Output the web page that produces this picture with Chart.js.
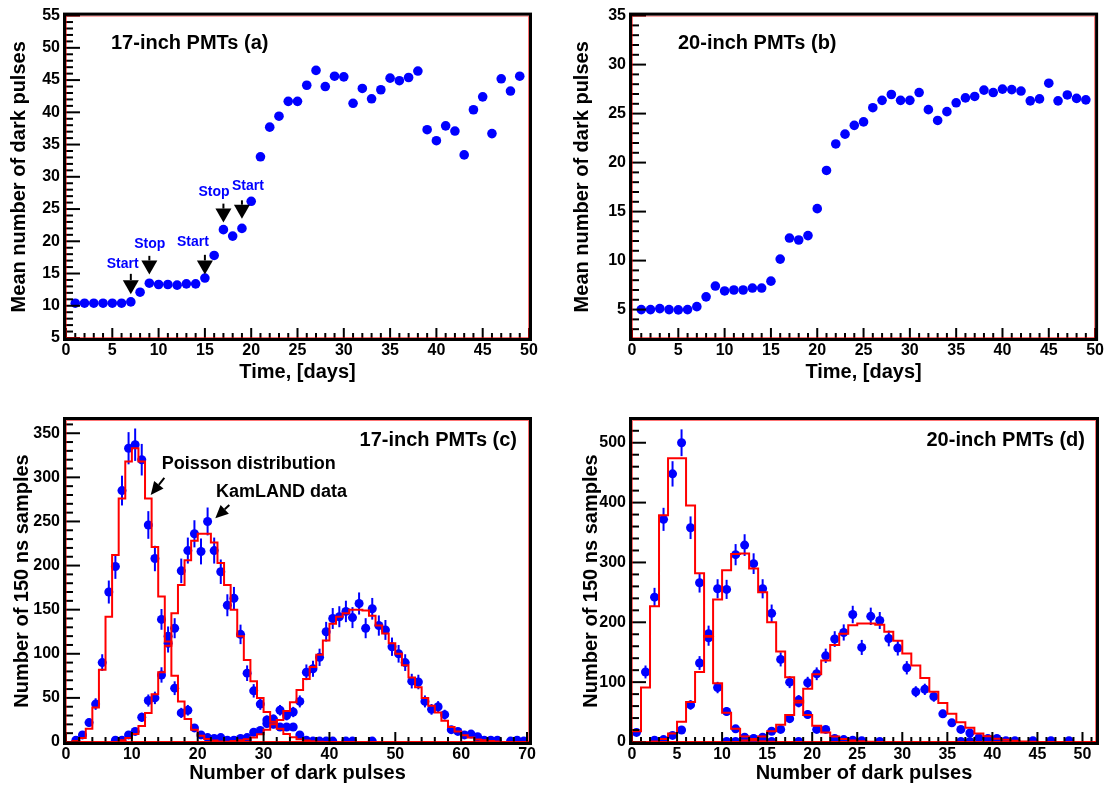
<!DOCTYPE html>
<html>
<head>
<meta charset="utf-8">
<script src="https://cdn.jsdelivr.net/npm/chart.js@4.4.1/dist/chart.umd.min.js"></script>
<style>
    html, body { margin: 0; padding: 0; background: #fff; }
    #page { position: relative; width: 1107px; height: 787px; overflow: hidden; }
    #page canvas { position: absolute; }
</style>
</head>
<body>
<div id="page">
    <canvas id="chart-a" width="553" height="393" style="left:0px;top:0px"></canvas>
    <canvas id="chart-b" width="547" height="393" style="left:560px;top:0px"></canvas>
    <canvas id="chart-c" width="553" height="387" style="left:0px;top:400px"></canvas>
    <canvas id="chart-d" width="547" height="387" style="left:560px;top:400px"></canvas>
</div>
<script>
// (a), (b): mean number of dark pulses per day
const days = [1, 2, 3, 4, 5, 6, 7, 8, 9, 10, 11, 12, 13, 14, 15, 16, 17, 18, 19, 20, 21, 22, 23, 24, 25,
    26, 27, 28, 29, 30, 31, 32, 33, 34, 35, 36, 37, 38, 39, 40, 41, 42, 43, 44, 45, 46, 47, 48, 49];
const mean17 = [10.4, 10.4, 10.4, 10.4, 10.4, 10.4, 10.6, 12.1, 13.5, 13.3, 13.3, 13.2, 13.4, 13.4, 14.3,
    17.8, 21.8, 20.8, 22.0, 26.2, 33.1, 37.7, 39.4, 41.7, 41.7, 44.2, 46.5, 44.0, 45.6, 45.5, 41.4, 43.7,
    42.1, 43.5, 45.3, 44.9, 45.4, 46.4, 37.3, 35.6, 37.9, 37.1, 33.4, 40.4, 42.4, 36.7, 45.2, 43.3, 45.6];
const mean20 = [5.0, 5.0, 5.1, 5.0, 4.97, 5.0, 5.3, 6.3, 7.4, 6.9, 7.0, 7.0, 7.2, 7.2, 7.9,
    10.15, 12.3, 12.1, 12.55, 15.3, 19.2, 21.9, 22.9, 23.8, 24.15, 25.6, 26.35, 26.95, 26.35, 26.35, 27.15, 25.4,
    24.3, 25.2, 26.1, 26.6, 26.75, 27.4, 27.15, 27.5, 27.45, 27.3, 26.3, 26.5, 28.1, 26.3, 26.9, 26.55, 26.4];

// (c) 17-inch: KamLAND data, counts per bin [k, k+1), first bin index given
const c1Start = 1;
const c1Data = [2, 8, 22, 43, 90, 170, 199, 285, 333, 337, 320, 246, 208, 139, 112, 61, 33, 36, 16, 8,
    5, 4, 5, 2, 2, 4, 2];
const c2Start = 7;
const c2Data = [2, 2, 8, 12, 28, 47, 50, 76, 120, 129, 194, 217, 236, 216, 250, 217, 193, 155, 163, 122,
    78, 58, 43, 25, 20, 17, 17, 17, 8, 2, 1, 1, 1, 1, null, 1, 1, null, null, 1];
const c3Start = 25;
const c3Data = [1, 3, 5, 11, 13, 21, 26, 36, 30, 34, 46, 79, 83, 96, 125, 140, 142, 148, 141, 157,
    129, 151, 132, 127, 108, 100, 90, 69, 68, 46, 37, 40, 31, 14, 12, 8, 9, 6, 2, 2, 2, null, 1, 2, 1];
// (c) Poisson distributions
const p1Start = 1;
const p1Data = [1, 4.5, 15, 39, 82, 142, 212, 276, 318, 333, 318, 276, 221, 165, 114, 75, 46, 26, 14, 7,
    3.5, 1.7, 0.7, 0.3];
const p2Start = 8;
const p2Data = [2, 4.5, 9, 18, 33, 54, 79, 109, 146, 178, 206, 228, 236, 236, 226, 203, 178, 150, 120, 93,
    69, 50, 34, 23, 15, 9, 5.5, 3, 1.6, 0.8, 0.4];
const p3Start = 25;
const p3Data = [1, 2, 3, 5, 8.7, 14, 20, 25, 35, 45, 59, 71.5, 85, 99, 115, 134, 142, 146, 150, 150,
    149, 143, 132, 123, 112, 100, 87, 73, 62, 50, 41, 33.5, 24, 17, 12, 7.6, 5, 2.7, 2, 1, 0.5];

// (d) 20-inch: KamLAND data
const d1Start = 0;
const d1Data = [16, 117, 242, 372, 448, 500, 358, 266, 181, 91, 51, 22, 8, 5, 2, 1, null, null, 1];
const d2Start = 2;
const d2Data = [3, 4, 11, 20, 62, 132, 174, 256, 255, 313, 329, 298, 256, 215, 138, 100, 66, 46, 21, 21,
    6, 4, 3, 2, null, 1, null, null, null, null, null, null, null, null, 1, 1];
const d3Start = 10;
const d3Data = [1, 1, 2, 6, 8, 18, 21, 39, 70, 99, 114, 144, 172, 183, 213, 158, 210, 203, 173, 157,
    124, 84, 88, 76, 47, 32, 21, 15, 7, 6, 6, 2, 2, null, 2, null, 2, null, 2];
// (d) Poisson distributions
const q1Start = 0;
const q1Data = [18, 91, 227, 379, 474, 474, 395, 282, 176, 98, 49, 22, 9, 3.5, 1.3, 0.4];
const q2Start = 2;
const q2Data = [1, 5, 14, 34, 67, 117, 177, 238, 287, 314, 315, 290, 250, 200, 151, 108, 69, 45, 27, 16,
    9, 5, 2.5, 1.2, 0.5];
const q3Start = 12;
const q3Data = [2.5, 5, 9, 18, 29, 45, 66, 89, 113, 136, 162, 181, 195, 198, 198, 196, 184, 169, 148, 128,
    107, 84, 65, 47, 33, 24, 14, 9.5, 5.6, 3.9, 2, 1, 0.5];

const FONT = "'Liberation Sans', Arial, Helvetica, sans-serif";
const BLUE = '#0000ff';
const RED = '#ff0000';
Chart.defaults.font.family = FONT;
Chart.defaults.color = '#000';

function binPoints(start, counts) {
    return counts
        .map((c, i) => (c === null ? null : { x: start + i + 0.5, y: c }))
        .filter(p => p !== null);
}

function stepPoints(start, counts, lastBin) {
    const pts = [];
    for (let k = 0; k <= lastBin; k++) {
        const v = counts[k - start];
        pts.push({ x: k, y: v === undefined ? 0 : v });
    }
    pts.push({ x: lastBin + 1, y: 0 });
    return pts;
}

// ROOT-like frame with inward major/minor ticks
const rootFrame = {
    id: 'rootFrame',
    afterDatasetsDraw(chart, args, opts) {
        const { ctx, chartArea: a, scales } = chart;
        ctx.save();
        ctx.strokeStyle = '#000';
        ctx.lineWidth = 2;
        drawTicks(ctx, scales.x, a, opts.xMinor, 10, 5, true);
        drawTicks(ctx, scales.y, a, opts.yMinor, 14, 7, false);
        ctx.strokeStyle = 'rgba(255,0,0,0.55)';
        ctx.lineWidth = 1;
        ctx.strokeRect(a.left + 0.5, a.top + 0.5, a.width - 1, a.height - 1);
        ctx.strokeStyle = '#000';
        ctx.lineWidth = 3;
        ctx.strokeRect(a.left - 1.5, a.top - 1.5, a.width + 3, a.height + 3);
        ctx.restore();
    }
};

function drawTicks(ctx, scale, a, minor, majorLen, minorLen, horizontal) {
    const major = scale.options.ticks.stepSize;
    const first = Math.ceil(scale.min / minor - 1e-9);
    for (let i = first; i * minor <= scale.max + 1e-9; i++) {
        const v = i * minor;
        const isMajor = Math.abs(v / major - Math.round(v / major)) < 1e-6;
        const len = isMajor ? majorLen : minorLen;
        const p = scale.getPixelForValue(v);
        ctx.beginPath();
        if (horizontal) {
            ctx.moveTo(p, a.bottom);
            ctx.lineTo(p, a.bottom - len);
        } else {
            ctx.moveTo(a.left, p);
            ctx.lineTo(a.left + len, p);
        }
        ctx.stroke();
    }
}

// statistical error bars (sqrt N) under the data points
const errorBars = {
    id: 'errorBars',
    beforeDatasetsDraw(chart) {
        const { ctx, scales: { y } } = chart;
        ctx.save();
        ctx.strokeStyle = BLUE;
        ctx.lineWidth = 2;
        chart.data.datasets.forEach((ds, i) => {
            if (!ds.errorBars) return;
            const meta = chart.getDatasetMeta(i);
            meta.data.forEach((el, j) => {
                const v = ds.data[j].y;
                const e = Math.sqrt(v);
                ctx.beginPath();
                ctx.moveTo(el.x, y.getPixelForValue(v + e));
                ctx.lineTo(el.x, y.getPixelForValue(Math.max(v - e, 0)));
                ctx.stroke();
            });
        });
        ctx.restore();
    }
};

// panel label, text notes and arrows
const notes = {
    id: 'notes',
    afterDraw(chart, args, opts) {
        const { ctx, chartArea: a, scales: { x, y } } = chart;
        ctx.save();
        ctx.textBaseline = 'middle';
        if (opts.panel) {
            const p = opts.panel;
            ctx.font = `bold 20px ${FONT}`;
            ctx.fillStyle = '#000';
            ctx.textAlign = p.align;
            ctx.fillText(p.text, p.align === 'right' ? a.right - p.dx : a.left + p.dx, a.top + p.dy);
        }
        (opts.labels || []).forEach(l => {
            ctx.font = `bold ${l.size}px ${FONT}`;
            ctx.fillStyle = l.color;
            ctx.textAlign = l.align;
            ctx.fillText(l.text, x.getPixelForValue(l.x), y.getPixelForValue(l.y));
        });
        (opts.arrows || []).forEach(ar => {
            const x1 = x.getPixelForValue(ar.x1), y1 = y.getPixelForValue(ar.y1);
            const x2 = x.getPixelForValue(ar.x2), y2 = y.getPixelForValue(ar.y2);
            const ang = Math.atan2(y2 - y1, x2 - x1);
            const bx = x2 - Math.cos(ang) * ar.head, by = y2 - Math.sin(ang) * ar.head;
            ctx.strokeStyle = '#000';
            ctx.fillStyle = '#000';
            ctx.lineWidth = 2;
            ctx.beginPath();
            ctx.moveTo(x1, y1);
            ctx.lineTo(bx, by);
            ctx.stroke();
            const hw = ar.width / 2;
            ctx.beginPath();
            ctx.moveTo(x2, y2);
            ctx.lineTo(bx + Math.sin(ang) * hw, by - Math.cos(ang) * hw);
            ctx.lineTo(bx - Math.sin(ang) * hw, by + Math.cos(ang) * hw);
            ctx.closePath();
            ctx.fill();
        });
        ctx.restore();
    }
};

function axis(o) {
    return {
        type: 'linear',
        min: o.min,
        max: o.max,
        afterFit: scale => {
            if (scale.isHorizontal()) scale.height = o.size;
            else scale.width = o.size;
        },
        grid: { display: false, drawTicks: false },
        border: { display: false },
        ticks: {
            stepSize: o.step,
            includeBounds: false,
            autoSkip: false,
            maxRotation: 0,
            padding: o.tickPad,
            color: '#000',
            font: { size: 16, weight: 'bold' }
        },
        title: {
            display: true,
            text: o.title,
            color: '#000',
            font: { size: 20, weight: 'bold' },
            padding: o.titlePad
        }
    };
}

function makeChart(id, cfg) {
    return new Chart(document.getElementById(id), {
        type: 'scatter',
        data: { datasets: cfg.datasets },
        options: {
            responsive: false,
            animation: false,
            devicePixelRatio: 1,
            layout: { padding: cfg.padding },
            scales: { x: axis(cfg.x), y: axis(cfg.y) },
            plugins: {
                legend: { display: false },
                tooltip: { enabled: false },
                rootFrame: cfg.frame,
                notes: cfg.notes
            }
        },
        plugins: [errorBars, rootFrame, notes]
    });
}

function dayDots(values) {
    return {
        data: days.map((d, i) => ({ x: d, y: values[i] })),
        pointRadius: 4.8,
        pointBackgroundColor: BLUE,
        pointBorderWidth: 0
    };
}

function histDots(start, counts) {
    return {
        data: binPoints(start, counts),
        errorBars: true,
        pointRadius: 4.5,
        pointBackgroundColor: BLUE,
        pointBorderWidth: 0,
        order: 2
    };
}

function poissonLine(start, counts, lastBin) {
    return {
        type: 'line',
        data: stepPoints(start, counts, lastBin),
        stepped: true,
        borderColor: RED,
        borderWidth: 2,
        pointRadius: 0,
        fill: false,
        order: 1
    };
}

const startStop = {
    labels: [
        { text: 'Start', x: 6.12, y: 16.4, size: 14, color: BLUE, align: 'center' },
        { text: 'Stop', x: 9.04, y: 19.5, size: 14, color: BLUE, align: 'center' },
        { text: 'Start', x: 13.71, y: 19.9, size: 14, color: BLUE, align: 'center' },
        { text: 'Stop', x: 15.98, y: 27.6, size: 14, color: BLUE, align: 'center' },
        { text: 'Start', x: 19.65, y: 28.5, size: 14, color: BLUE, align: 'center' }
    ],
    arrows: [
        { x1: 7, y1: 14.95, x2: 7, y2: 11.8, head: 14, width: 16 },
        { x1: 9, y1: 17.74, x2: 9, y2: 14.85, head: 14, width: 16 },
        { x1: 15, y1: 17.9, x2: 15, y2: 14.85, head: 14, width: 16 },
        { x1: 17, y1: 25.84, x2: 17, y2: 22.9, head: 14, width: 16 },
        { x1: 19, y1: 26.35, x2: 19, y2: 23.5, head: 14, width: 16 }
    ]
};

makeChart('chart-a', {
    padding: { left: 0, top: 10, right: 24, bottom: 0 },
    x: { min: 0, max: 50, step: 5, size: 55, tickPad: 3, title: 'Time, [days]', titlePad: { top: 0, bottom: 9 } },
    y: { min: 5, max: 55, step: 5, size: 66, tickPad: 6, title: 'Mean number of dark pulses', titlePad: { top: 7, bottom: 0 } },
    frame: { xMinor: 1, yMinor: 1 },
    notes: Object.assign({ panel: { text: '17-inch PMTs (a)', dx: 45, dy: 28, align: 'left' } }, startStop),
    datasets: [dayDots(mean17)]
});

makeChart('chart-b', {
    padding: { left: 0, top: 10, right: 11, bottom: 0 },
    x: { min: 0, max: 50, step: 5, size: 55, tickPad: 3, title: 'Time, [days]', titlePad: { top: 0, bottom: 9 } },
    y: { min: 2.1, max: 35, step: 5, size: 72, tickPad: 6, title: 'Mean number of dark pulses', titlePad: { top: 10, bottom: 0 } },
    frame: { xMinor: 1, yMinor: 1 },
    notes: { panel: { text: '20-inch PMTs (b)', dx: 46, dy: 28, align: 'left' } },
    datasets: [dayDots(mean20)]
});

makeChart('chart-c', {
    padding: { left: 0, top: 20, right: 24, bottom: 0 },
    x: { min: 0, max: 70.3, step: 10, size: 45, tickPad: 3, title: 'Number of dark pulses', titlePad: { top: 0, bottom: 2 } },
    y: { min: 0, max: 365, step: 50, size: 66, tickPad: 6, title: 'Number of 150 ns samples', titlePad: { top: 10, bottom: 0 } },
    frame: { xMinor: 2, yMinor: 10 },
    notes: {
        panel: { text: '17-inch PMTs (c)', dx: 12, dy: 20, align: 'right' },
        labels: [
            { text: 'Poisson distribution', x: 14.53, y: 315.2, size: 18, color: '#000', align: 'left' },
            { text: 'KamLAND data', x: 22.78, y: 283.8, size: 18, color: '#000', align: 'left' }
        ],
        arrows: [
            { x1: 14.93, y1: 299.3, x2: 12.86, y2: 280, head: 13, width: 12 },
            { x1: 24.8, y1: 268.7, x2: 22.67, y2: 253.6, head: 13, width: 12 }
        ]
    },
    datasets: [
        histDots(c1Start, c1Data), histDots(c2Start, c2Data), histDots(c3Start, c3Data),
        poissonLine(p1Start, p1Data, 70), poissonLine(p2Start, p2Data, 70), poissonLine(p3Start, p3Data, 70)
    ]
});

makeChart('chart-d', {
    padding: { left: 0, top: 20, right: 11, bottom: 0 },
    x: { min: 0, max: 51.5, step: 5, size: 45, tickPad: 3, title: 'Number of dark pulses', titlePad: { top: 0, bottom: 2 } },
    y: { min: 0, max: 538, step: 100, size: 72, tickPad: 6, title: 'Number of 150 ns samples', titlePad: { top: 19, bottom: 0 } },
    frame: { xMinor: 1, yMinor: 20 },
    notes: { panel: { text: '20-inch PMTs (d)', dx: 11, dy: 20, align: 'right' } },
    datasets: [
        histDots(d1Start, d1Data), histDots(d2Start, d2Data), histDots(d3Start, d3Data),
        poissonLine(q1Start, q1Data, 51), poissonLine(q2Start, q2Data, 51), poissonLine(q3Start, q3Data, 51)
    ]
});
</script>
</body>
</html>
